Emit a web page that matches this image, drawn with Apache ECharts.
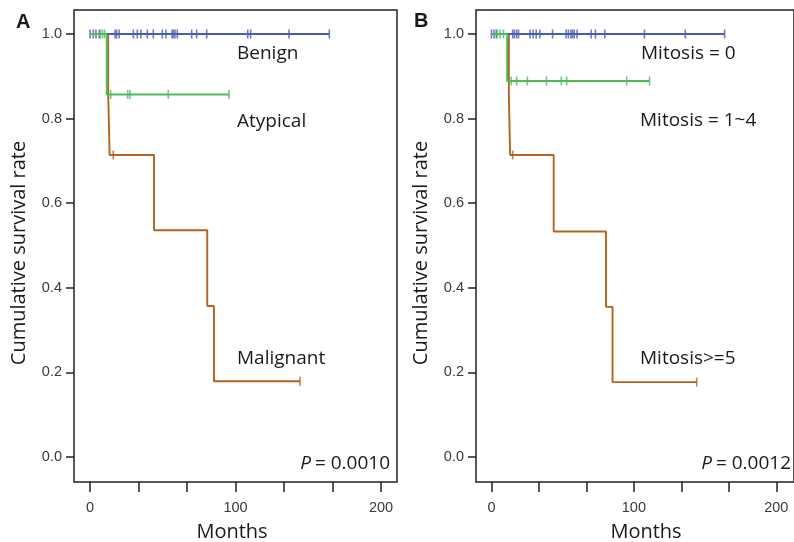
<!doctype html>
<html>
<head>
<meta charset="utf-8">
<title>Kaplan-Meier survival curves</title>
<script src="https://cdn.jsdelivr.net/npm/echarts@6/dist/echarts.min.js"></script>
<style>
  html, body { margin: 0; padding: 0; background: #fff; }
  #main { width: 794px; height: 542px; }
</style>
</head>
<body>
<div id="main"></div>
<script type="text/javascript">
// ---- data ----
// tick labels
var xTickVals = [0, 33.33, 66.67, 100, 133.33, 166.67, 200];
var xLabelVals = [0, 100, 200];
var yTickVals = [0, 0.2, 0.4, 0.6, 0.8, 1.0];

// panel A : steps are [month, survival], censored are months
var benignSteps = [[0, 1], [164.5, 1]];
var benignCensor = [0, 2.3, 4.1, 6.4, 17.2, 18.3, 20.1, 29.8, 32.5, 35, 39.4, 43.5, 49.7, 52.2,
                    56.4, 57.3, 58.4, 60, 69.9, 73.3, 80.2, 108.4, 110.4, 136.8, 164.5];
var atypicalSteps = [[0, 1], [11.5, 0.857], [95.5, 0.857]];
var atypicalCensor = [7, 8.5, 10, 14.2, 25.9, 27.5, 53.8, 95.5];
var malignantSteps = [[0, 1], [12.5, 0.857], [13.5, 0.714], [44, 0.536], [80.6, 0.357], [85.2, 0.179], [144.3, 0.179]];
var malignantCensor = [16, 144.3];

// panel B
var mit0Steps = [[0, 1], [163.7, 1]];
var mit0Censor = [0, 1.8, 3.4, 14.9, 16.1, 17.7, 19, 27.1, 29.2, 31.4, 34, 42.9, 52.4, 54,
                  55.8, 56.9, 58.1, 60.1, 70, 73, 79.6, 107.4, 136.1, 163.7];
var mit14Steps = [[0, 1], [11, 0.889], [111, 0.889]];
var mit14Censor = [4, 6, 8.5, 13.8, 17.7, 25.2, 38.6, 49, 52.8, 94.9, 111];
var mit5Steps = [[0, 1], [12.2, 0.857], [13.1, 0.714], [43.7, 0.533], [80.4, 0.355], [85, 0.177], [144.1, 0.177]];
var mit5Censor = [14.9, 144.1];

var pA = '= 0.0010';
var pB = '= 0.0012';

// ---- colours ----
var cBlue = '#4a5cb3';
var cGreen = '#4dbb5b';
var cBrown = '#b5631f';

// survival value at time t from a step list
function survAt(steps, t) {
    var s = steps[0][1];
    for (var i = 0; i < steps.length; i++) {
        if (steps[i][0] <= t) s = steps[i][1];
    }
    return s;
}

function kmSeries(steps, censor, color, idx) {
    return [
        {
            type: 'line', step: 'end', xAxisIndex: idx, yAxisIndex: idx,
            data: steps, symbol: 'none', silent: true, animation: false,
            lineStyle: { color: color, width: 1.9 }
        },
        {
            type: 'scatter', xAxisIndex: idx, yAxisIndex: idx,
            data: censor.map(function (t) { return [t, survAt(steps, t)]; }),
            symbol: 'rect', symbolSize: [1.6, 9], silent: true, animation: false,
            itemStyle: { color: color }
        }
    ];
}

function xAx(idx, min, max) {
    return {
        type: 'value', gridIndex: idx, min: min, max: max,
        axisLine: { show: false, onZero: false },
        splitLine: { show: false },
        axisTick: { show: true, customValues: xTickVals, length: 10, lineStyle: { color: '#222', width: 1.5 } },
        axisLabel: {
            customValues: xLabelVals, margin: 18,
            color: '#3a3a3a', fontSize: 14.5, fontFamily: 'Liberation Sans',
            formatter: function (v) { return Math.round(v); }
        }
    };
}

function yAx(idx) {
    return {
        type: 'value', gridIndex: idx, min: -0.0591, max: 1.0567,
        axisLine: { show: false, onZero: false },
        splitLine: { show: false },
        axisTick: { show: true, customValues: yTickVals, length: 8, lineStyle: { color: '#222', width: 1.5 } },
        axisLabel: {
            customValues: yTickVals, margin: 12,
            color: '#3a3a3a', fontSize: 14.5, fontFamily: 'Liberation Sans',
            formatter: function (v) { return v.toFixed(1); }
        }
    };
}

function txt(s, x, y, opt) {
    opt = opt || {};
    return {
        type: 'text', x: x, y: y, rotation: opt.rot || 0, silent: true,
        style: {
            text: s, fill: '#1a1a1a',
            font: (opt.style || 'normal') + ' ' + (opt.weight || 'normal') + ' ' + (opt.size || 19) + 'px ' + (opt.family || '"Open Sans"'),
            align: opt.align || 'left', verticalAlign: 'middle'
        }
    };
}

var myChart = echarts.init(document.getElementById('main'));

var option = {
    backgroundColor: '#fff',
    animation: false,
    grid: [
        { left: 74, top: 10, width: 323, height: 472, show: true, borderColor: '#222', borderWidth: 1.5, backgroundColor: 'transparent' },
        { left: 476, top: 10, width: 323, height: 472, show: true, borderColor: '#222', borderWidth: 1.5, backgroundColor: 'transparent' }
    ],
    xAxis: [xAx(0, -11.0, 211.0), xAx(1, -10.85, 212.4)],
    yAxis: [yAx(0), yAx(1)],
    series: [].concat(
        kmSeries(malignantSteps, malignantCensor, cBrown, 0),
        kmSeries(benignSteps, benignCensor, cBlue, 0),
        kmSeries(atypicalSteps, atypicalCensor, cGreen, 0),
        kmSeries(mit5Steps, mit5Censor, cBrown, 1),
        kmSeries(mit0Steps, mit0Censor, cBlue, 1),
        kmSeries(mit14Steps, mit14Censor, cGreen, 1)
    ),
    graphic: [
        txt('A', 16, 22, { weight: 'bold', size: 20, family: '"Liberation Sans"' }),
        txt('B', 414, 21, { weight: 'bold', size: 20, family: '"Liberation Sans"' }),
        // panel A labels
        txt('Benign', 237, 54),
        txt('Atypical', 237, 122),
        txt('Malignant', 237, 359),
        txt('P', 311, 464, { style: 'italic', align: 'right' }),
        txt(pA, 390, 464, { align: 'right' }),
        txt('Months', 232, 532, { size: 20, align: 'center' }),
        txt('Cumulative survival rate', 19, 253, { size: 20, align: 'center', rot: Math.PI / 2 }),
        // panel B labels
        txt('Mitosis = 0', 641, 54),
        txt('Mitosis = 1~4', 640, 121),
        txt('Mitosis>=5', 640, 359),
        txt('P', 712, 464, { style: 'italic', align: 'right' }),
        txt(pB, 791, 464, { align: 'right' }),
        txt('Months', 646, 532, { size: 20, align: 'center' }),
        txt('Cumulative survival rate', 421, 253, { size: 20, align: 'center', rot: Math.PI / 2 })
    ]
};

myChart.setOption(option);
</script>
</body>
</html>
